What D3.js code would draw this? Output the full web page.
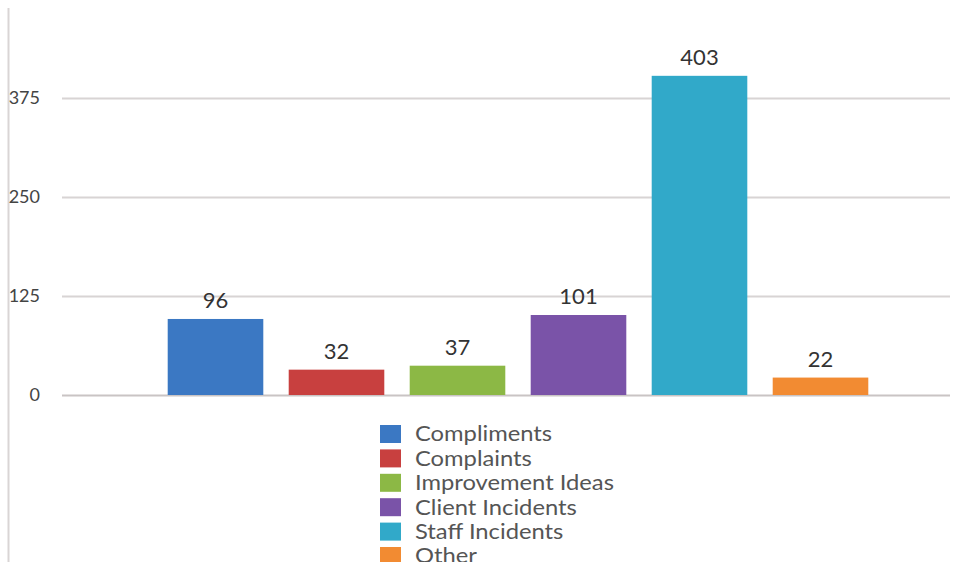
<!DOCTYPE html>
<html>
<head>
<meta charset="utf-8">
<script src="https://cdn.jsdelivr.net/npm/d3@7"></script>
<style>
  html, body { margin: 0; padding: 0; background: #fff; }
  svg { display: block; font-family: Lato, "Open Sans", sans-serif; }
</style>
</head>
<body>
<svg id="chart" width="954" height="562"></svg>
<script>
// Feedback counts by category
const categories = ["Compliments", "Complaints", "Improvement Ideas", "Client Incidents", "Staff Incidents", "Other"];
const counts = [96, 32, 37, 101, 403, 22];
const colors = ["#3b78c3", "#c8403f", "#8cb845", "#7a53a8", "#31a9c9", "#f28b32"];
const tickValues = [0, 125, 250, 375];

const svg = d3.select("#chart");

const x = d3.scaleBand().domain(categories).range([155, 881]).paddingInner(0.21).paddingOuter(0.105);
const y = d3.scaleLinear().domain([0, 375]).range([395, 98]);

// frame line on the left
svg.append("line")
  .attr("x1", 8.5).attr("x2", 8.5).attr("y1", 8).attr("y2", 562)
  .attr("stroke", "#d9d5d5").attr("stroke-width", 2);

// gridlines and tick labels
const yAxis = d3.axisLeft(y).tickValues(tickValues).tickSize(-(950 - 62)).tickPadding(22);
const gAxis = svg.append("g").attr("transform", "translate(62,0)").call(yAxis);
gAxis.select(".domain").remove();
gAxis.selectAll(".tick line").attr("stroke", d => d === 0 ? "#c9c4c4" : "#d8d4d4").attr("stroke-width", 2);
gAxis.selectAll(".tick text")
  .attr("fill", "#444").attr("font-size", 18).attr("font-family", "Lato, sans-serif");

// bars
svg.append("g").selectAll("rect").data(categories).join("rect")
  .attr("x", d => x(d))
  .attr("y", (d, i) => y(counts[i]))
  .attr("width", x.bandwidth())
  .attr("height", (d, i) => y(0) - y(counts[i]))
  .attr("fill", (d, i) => colors[i]);

// value labels
svg.append("g").selectAll("text").data(categories).join("text")
  .attr("x", d => x(d) + x.bandwidth() / 2)
  .attr("y", (d, i) => y(counts[i]) - 11)
  .attr("text-anchor", "middle")
  .attr("font-size", 22)
  .attr("fill", "#333")
  .text((d, i) => counts[i]);

// legend: compact rows, text slightly widened
const legend = svg.append("g").attr("transform", "translate(380,425)");
const row = legend.selectAll("g").data(categories).join("g")
  .attr("transform", (d, i) => `translate(0,${i * 24.4})`);
row.append("rect").attr("width", 21).attr("height", 18).attr("fill", (d, i) => colors[i]);
row.append("text")
  .attr("transform", "translate(35,9) scale(1.17,1)")
  .attr("dy", "0.36em")
  .attr("font-size", 20.3).attr("fill", "#555")
  .text(d => d);
</script>
</body>
</html>
